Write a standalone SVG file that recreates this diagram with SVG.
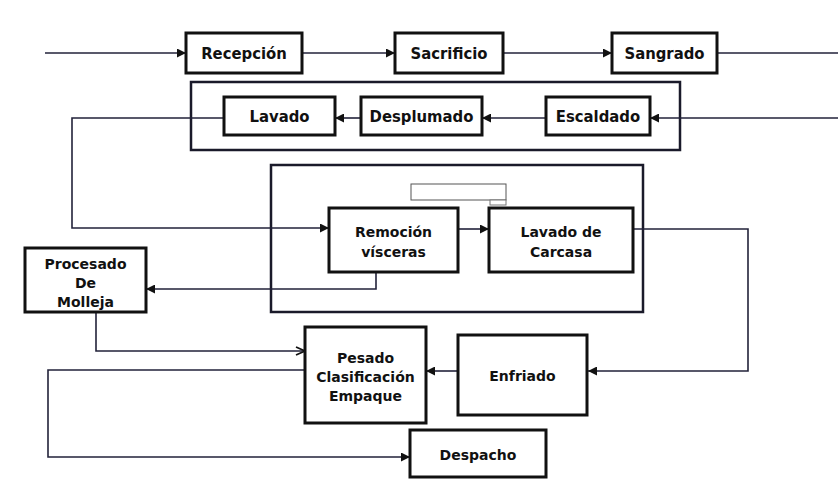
<svg xmlns="http://www.w3.org/2000/svg" width="838" height="479" viewBox="0 0 838 479">
<style>
.box{fill:#fff;stroke:#111;stroke-width:3}
.frame{fill:none;stroke:#1a1a2a;stroke-width:2.5}
.t{font-family:"DejaVu Sans",Verdana,sans-serif;font-weight:bold;font-size:14px;fill:#111;text-anchor:middle}
.tc{font-family:"DejaVu Sans Condensed","DejaVu Sans",sans-serif;font-weight:bold;font-size:16.5px;fill:#111;text-anchor:middle}
.c{fill:none;stroke:#22223a;stroke-width:1.6}
.ca{marker-end:url(#ah)}
.cv{marker-end:url(#chev)}
</style>
<defs>
<marker id="ah" viewBox="0 0 10 10" refX="10" refY="5" markerWidth="11" markerHeight="9" markerUnits="userSpaceOnUse" orient="auto">
<path d="M0,0 L10,5 L0,10 z" fill="#111"/>
</marker>
<marker id="chev" viewBox="0 0 10 10" refX="10" refY="5" markerWidth="11" markerHeight="10" markerUnits="userSpaceOnUse" orient="auto">
<path d="M1,1 L10,5 L1,9" fill="none" stroke="#111" stroke-width="1.8"/>
</marker>
</defs>
<rect width="838" height="479" fill="#fff"/>
<g id="frames">
<rect class="frame" x="191" y="82" width="489" height="68"/>
<rect class="frame" x="271" y="165" width="372" height="147"/>
<rect x="411" y="184" width="95" height="16" fill="#fff" stroke="#555" stroke-width="1"/>
<rect x="490" y="200" width="16" height="5" fill="#fff" stroke="#777" stroke-width="1"/>
</g>
<g id="connectors">
<path class="c ca" d="M45,53 H186"/>
<path class="c ca" d="M302,53 H395"/>
<path class="c ca" d="M503,53 H612"/>
<path class="c" d="M717,53 H838"/>
<path class="c ca" d="M838,118 H650"/>
<path class="c ca" d="M546,118 H482"/>
<path class="c ca" d="M361,118 H335"/>
<path class="c ca" d="M224,118 H72 V228 H329"/>
<path class="c ca" d="M458,229 H489"/>
<path class="c ca" d="M633,229 H748 V371 H588"/>
<path class="c ca" d="M458,371 H426"/>
<path class="c ca" d="M376,273 V289 H146"/>
<path class="c cv" d="M96,312 V351 H305"/>
<path class="c ca" d="M305,370 H48 V457 H410"/>
</g>
<g id="recepcion"><rect class="box" x="186" y="33" width="116" height="40"/><text class="tc" x="244" y="59">Recepción</text></g>
<g id="sacrificio"><rect class="box" x="395" y="33" width="108" height="40"/><text class="tc" x="449" y="59">Sacrificio</text></g>
<g id="sangrado"><rect class="box" x="612" y="33" width="105" height="40"/><text class="tc" x="664.5" y="59">Sangrado</text></g>
<g id="lavado"><rect class="box" x="224" y="97" width="111" height="38"/><text class="tc" x="279.5" y="122" font-size="15.5">Lavado</text></g>
<g id="desplumado"><rect class="box" x="361" y="97" width="121" height="38"/><text class="tc" x="421.5" y="122" font-size="15.5">Desplumado</text></g>
<g id="escaldado"><rect class="box" x="546" y="97" width="104" height="38"/><text class="tc" x="598" y="122" font-size="15.5">Escaldado</text></g>
<g id="remocion"><rect class="box" x="329" y="208" width="129" height="64"/><text class="t" x="393.5" y="237">Remoción</text><text class="t" x="393.5" y="257">vísceras</text></g>
<g id="lavado-carcasa"><rect class="box" x="489" y="208" width="144" height="64"/><text class="t" x="561" y="237">Lavado de</text><text class="t" x="561" y="257">Carcasa</text></g>
<g id="molleja"><rect class="box" x="25" y="248" width="121" height="64"/><text class="t" x="85.5" y="269">Procesado</text><text class="t" x="85.5" y="288">De</text><text class="t" x="85.5" y="307">Molleja</text></g>
<g id="pesado"><rect class="box" x="305" y="327" width="121" height="96"/><text class="t" x="365.5" y="363">Pesado</text><text class="t" x="365.5" y="382">Clasificación</text><text class="t" x="365.5" y="401">Empaque</text></g>
<g id="enfriado"><rect class="box" x="458" y="335" width="129" height="80"/><text class="t" x="522.5" y="381">Enfriado</text></g>
<g id="despacho"><rect class="box" x="410" y="430" width="136" height="47"/><text class="t" x="478" y="460">Despacho</text></g>
</svg>
